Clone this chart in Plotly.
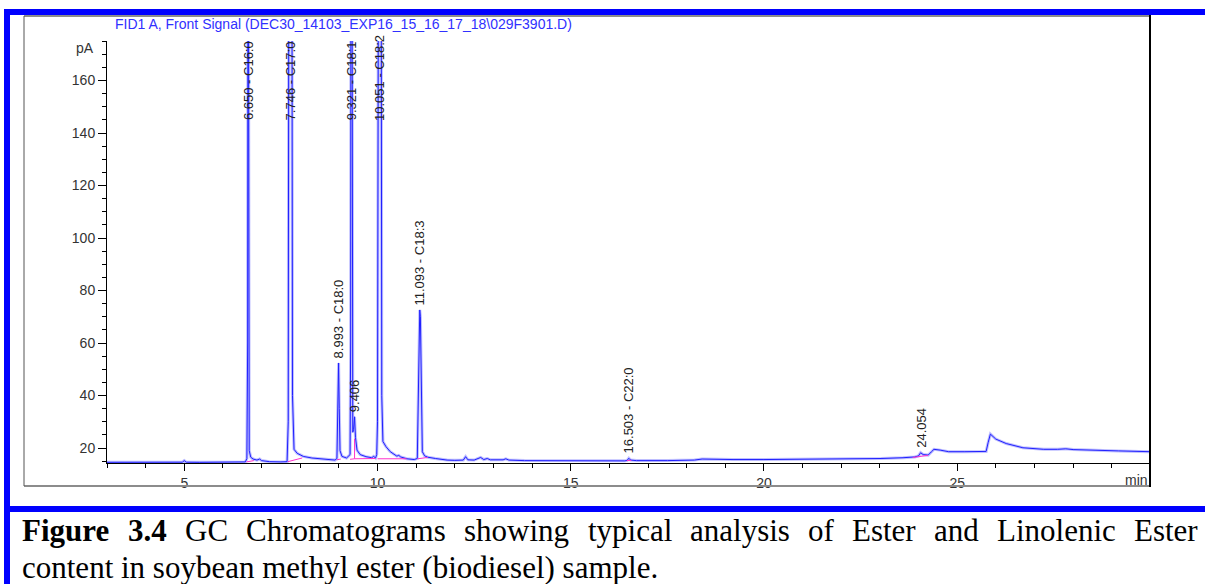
import plotly.graph_objects as go

# ---------------- data ----------------
time_min = [
    3.00, 3.40, 3.80, 4.20, 4.60, 4.95, 5.00, 5.05, 5.40, 5.80, 6.20, 6.58,
    6.62, 6.64, 6.650, 6.66, 6.68, 6.72, 6.78, 6.88, 6.95, 7.00, 7.20, 7.50, 7.66,
    7.69, 7.72, 7.746, 7.77, 7.80, 7.84, 7.92, 8.08, 8.30, 8.60, 8.90,
    8.95, 8.975, 8.993, 9.010, 9.03, 9.08, 9.20, 9.29,
    9.305, 9.321, 9.34, 9.36, 9.38, 9.406, 9.43, 9.47, 9.55, 9.70, 9.85, 9.90, 9.95, 9.98,
    10.00, 10.03, 10.051, 10.08, 10.11, 10.14, 10.22, 10.33, 10.50, 10.55, 10.60, 10.76, 10.95, 11.03,
    11.06, 11.08, 11.093, 11.11, 11.13, 11.16, 11.22, 11.30, 11.50, 11.80, 12.00,
    12.22, 12.28, 12.34, 12.50, 12.58, 12.67, 12.75, 12.84, 12.92, 13.10, 13.25, 13.32, 13.40,
    13.80, 14.50, 15.50, 16.40, 16.46, 16.503, 16.55, 16.70, 17.50, 18.20, 18.40, 18.60,
    19.20, 20.00, 21.00, 22.00, 23.03, 23.60, 23.90, 24.00, 24.054, 24.12, 24.25, 24.33,
    24.40, 24.56, 24.78, 25.20, 25.75, 25.80, 25.86, 26.00, 26.27, 26.70, 27.24, 27.60,
    27.81, 28.00, 28.30, 29.17, 30.00,
]
signal_pa = [
    14.55, 14.6, 14.5, 14.6, 14.55, 14.6, 15.2, 14.6, 14.55, 14.6, 14.6, 14.7,
    16.0, 60, 300, 60, 19.0, 16.5, 15.8, 15.4, 15.8, 15.2, 14.8, 14.7, 14.8,
    30, 400, 420, 400, 40, 19.5, 18.0, 16.8, 16.2, 15.8, 15.4,
    16.0, 35, 52.4, 35, 19, 16.8, 16.2, 17.5,
    60, 400, 60, 26, 27, 31.9, 24, 19.2, 17.5, 16.7, 16.3, 16.8, 16.2, 17.5,
    30, 400, 420, 400, 40, 22.5, 20.5, 18.6, 16.9, 17.2, 16.6, 15.9, 15.6, 16.0,
    40, 70, 72.6, 70, 40, 18.6, 17.0, 16.5, 16.0, 15.4, 15.3,
    15.4, 16.7, 15.5, 15.4, 15.8, 16.4, 15.6, 16.0, 15.5, 15.4, 15.5, 15.9, 15.4,
    15.2, 15.1, 15.05, 15.1, 15.3, 16.1, 15.4, 15.2, 15.2, 15.4, 15.8, 15.7,
    15.6, 15.6, 15.7, 15.8, 16.0, 16.3, 16.6, 17.0, 18.2, 17.5, 17.3, 18.5,
    19.5, 19.2, 18.6, 18.6, 18.7, 22.0, 25.3, 23.4, 21.7, 20.1, 19.5, 19.5,
    19.7, 19.4, 19.2, 18.9, 18.6,
]

# integration baselines (magenta), None separates segments
base_t = [6.61, 6.80, None, 7.68, 8.05, None, 8.95, 9.05, None, 9.29, 9.406, 9.95, None,
          9.406, 9.406, None, 10.00, 10.75, None, 11.04, 11.30, None, 16.45, 16.57, None,
          23.85, 24.25]
base_pa = [14.7, 15.2, None, 14.8, 16.2, None, 15.5, 15.8, None, 15.7, 15.9, 16.0, None,
           15.9, 23.5, None, 15.9, 15.9, None, 15.9, 16.4, None, 15.2, 15.3, None,
           16.4, 17.2]

peak_rt = [6.650, 7.746, 8.993, 9.321, 9.406, 10.051, 11.093, 16.503, 24.054]
peak_name = ["C16:0", "C17:0", "C18:0", "C18:1", "", "C18:2", "C18:3", "C22:0", ""]
peak_apex = [300, 420, 52.4, 400, 31.9, 420, 72.6, 16.1, 18.2]

x_ticks = [5, 10, 15, 20, 25]
y_ticks = [20, 40, 60, 80, 100, 120, 140, 160]

title_text = "FID1 A, Front Signal (DEC30_14103_EXP16_15_16_17_18\\029F3901.D)"
caption_line1 = [("Figure", True), ("3.4", True), ("GC", False), ("Chromatograms", False),
                 ("showing", False), ("typical", False), ("analysis", False), ("of", False),
                 ("Ester", False), ("and", False), ("Linolenic", False), ("Ester", False)]
caption_line2 = "content in soybean methyl ester (biodiesel) sample."

# ---------------- layout geometry (pixels) ----------------
W, H = 1205, 584
L, R, T, B = 107, 1150, 41, 463
Y_RANGE = [14.29, 175.05]
X_RANGE = [3.0, 29.99]


def px(x):
    return (x - L) / (R - L)


def py(y):
    return (B - y) / (B - T)


fig = go.Figure()
fig.add_trace(go.Scatter(x=time_min, y=signal_pa, mode="lines",
                         line=dict(color="rgba(110,110,255,0.45)", width=3),
                         hoverinfo="skip", showlegend=False))
fig.add_trace(go.Scatter(x=time_min, y=signal_pa, mode="lines",
                         line=dict(color="#2020ff", width=1),
                         hoverinfo="skip", showlegend=False))
fig.add_trace(go.Scatter(x=base_t, y=base_pa, mode="lines",
                         line=dict(color="#ff33cc", width=1),
                         hoverinfo="skip", showlegend=False, connectgaps=False))

annotations = []
for rt, name, apex in zip(peak_rt, peak_name, peak_apex):
    label = f"{rt:.3f} - {name}" if name else f"{rt:.3f}"
    ylab = apex + 1.0 if apex < 150 else 144
    annotations.append(dict(x=rt, y=ylab, xref="x", yref="y", text=label, showarrow=False,
                            textangle=-90, xanchor="center", yanchor="bottom",
                            font=dict(family="Liberation Sans, Arial", size=13, color="#222222")))

# title
annotations.append(dict(x=px(113), y=py(24), xref="paper", yref="paper", text=title_text,
                        showarrow=False, xanchor="left", yanchor="middle",
                        font=dict(family="Liberation Sans, Arial", size=14, color="#3030ff")))
# axis unit labels
annotations.append(dict(x=px(96), y=py(48), xref="paper", yref="paper", text="pA",
                        showarrow=False, xanchor="right", yanchor="middle",
                        font=dict(family="Liberation Sans, Arial", size=14, color="#333333")))
annotations.append(dict(x=px(1150), y=py(480), xref="paper", yref="paper", text="min",
                        showarrow=False, xanchor="right", yanchor="middle",
                        font=dict(family="Liberation Sans, Arial", size=14, color="#333333")))

# caption (justified line 1 using Times metrics)
REG = dict(zip("abcdefghijklmnopqrstuvwxyz",
               [444, 500, 444, 500, 444, 333, 500, 500, 278, 278, 500, 278, 778, 500, 500, 500,
                500, 333, 389, 278, 500, 500, 722, 500, 500, 444]))
REG.update({"C": 667, "G": 722, "E": 611, "L": 611, ".": 250, "3": 500, "4": 500,
            "(": 333, ")": 333, " ": 250})
BOLD = {"F": 611, "i": 278, "g": 500, "u": 556, "r": 444, "e": 444, "3": 500, ".": 250, "4": 500}
FS = 31
widths = []
for word, bold in caption_line1:
    tab = BOLD if bold else REG
    widths.append(sum(tab.get(c, 500) for c in word) * FS / 1000)
X0, X1 = 21, 1197
gap = (X1 - X0 - sum(widths)) / (len(widths) - 1)
xc = X0
for (word, bold), w in zip(caption_line1, widths):
    annotations.append(dict(x=px(xc), y=py(530), xref="paper", yref="paper",
                            text=f"<b>{word}</b>" if bold else word, showarrow=False,
                            xanchor="left", yanchor="middle", borderpad=0,
                            font=dict(family="Liberation Serif, Times New Roman", size=FS,
                                      color="#000000")))
    xc += w + gap
annotations.append(dict(x=px(X0), y=py(567), xref="paper", yref="paper", text=caption_line2,
                        showarrow=False, xanchor="left", yanchor="middle", borderpad=0,
                        font=dict(family="Liberation Serif, Times New Roman", size=FS,
                                  color="#000000")))

shapes = [
    # blue outer frame pieces
    dict(type="rect", xref="paper", yref="paper", x0=px(4), x1=px(1205), y0=py(15), y1=py(9),
         fillcolor="#0000ff", line=dict(width=0), layer="above"),
    dict(type="rect", xref="paper", yref="paper", x0=px(4), x1=px(10), y0=py(584), y1=py(9),
         fillcolor="#0000ff", line=dict(width=0), layer="above"),
    dict(type="rect", xref="paper", yref="paper", x0=px(4), x1=px(1205), y0=py(512), y1=py(506),
         fillcolor="#0000ff", line=dict(width=0), layer="above"),
    # inner grey frame
    dict(type="line", xref="paper", yref="paper", x0=px(24), x1=px(1150), y0=py(16), y1=py(16),
         line=dict(color="#8c8c8c", width=2)),
    dict(type="line", xref="paper", yref="paper", x0=px(24), x1=px(1150), y0=py(486), y1=py(486),
         line=dict(color="#8c8c8c", width=2)),
    dict(type="line", xref="paper", yref="paper", x0=px(24), x1=px(24), y0=py(16), y1=py(486),
         line=dict(color="#555555", width=1)),
    dict(type="line", xref="paper", yref="paper", x0=px(1150), x1=px(1150), y0=py(15), y1=py(487),
         line=dict(color="#000000", width=2)),
]

axis_font = dict(family="Liberation Sans, Arial", size=14, color="#333333")
fig.update_layout(
    width=W, height=H,
    margin=dict(l=L, r=W - R, t=T, b=H - B, pad=0),
    paper_bgcolor="white", plot_bgcolor="white",
    showlegend=False,
    annotations=annotations,
    shapes=shapes,
    xaxis=dict(range=X_RANGE, tickvals=x_ticks, ticktext=[str(v) for v in x_ticks],
               ticks="outside", ticklen=7, tickcolor="black", tickwidth=1,
               showline=True, linecolor="black", linewidth=1, showgrid=False, zeroline=False,
               tickfont=axis_font, automargin=False,
               minor=dict(ticks="outside", ticklen=4, dtick=1, tick0=0, tickcolor="black",
                          showgrid=False)),
    yaxis=dict(range=Y_RANGE, tickvals=y_ticks, ticktext=[str(v) for v in y_ticks],
               ticks="outside", ticklen=8, tickcolor="black", tickwidth=1,
               showline=True, linecolor="black", linewidth=1, showgrid=False, zeroline=False,
               tickfont=axis_font, automargin=False,
               minor=dict(ticks="outside", ticklen=4, dtick=5, tick0=0, tickcolor="black",
                          showgrid=False)),
)

fig.write_html("out.html")
